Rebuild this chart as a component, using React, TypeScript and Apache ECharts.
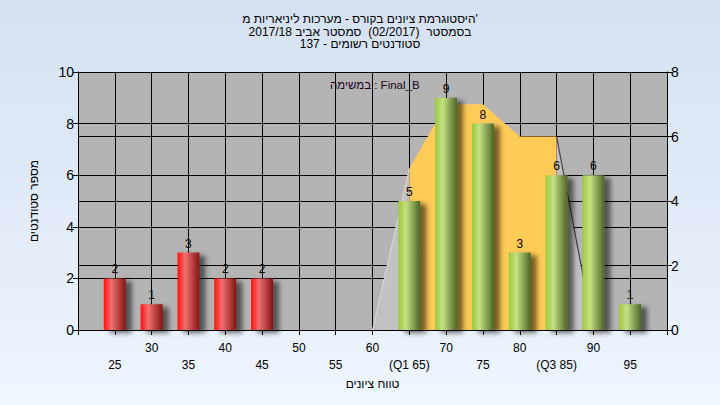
import React, { useEffect, useRef } from "react";
import * as echarts from "echarts";

const titleLines = [
  "היסטוגרמת ציונים בקורס - מערכות ליניאריות מ'",
  "בסמסטר  (02/2017)  סמסטר אביב 2017/18",
  "סטודנטים רשומים - 137",
];
const taskLabel = "במשימה : Final_B";
const xAxisName = "טווח ציונים";
const yAxisName = "מספר סטודנטים";

const failGrades = [25, 30, 35, 40, 45, 50, 55, 60];
const failCounts = [2, 1, 3, 2, 2, 0, 0, 0];
const passGrades = [65, 70, 75, 80, 85, 90, 95];
const passCounts = [5, 9, 8, 3, 6, 6, 1];

const tickValues = [25, 30, 35, 40, 45, 50, 55, 60, 65, 70, 75, 80, 85, 90, 95];
const tickLabels = ["25", "30", "35", "40", "45", "50", "55", "60", "(Q1 65)", "70", "75", "80", "(Q3 85)", "90", "95"];

// box-shape overlay (right axis)
const lowTailX = [60, 65];
const lowTailY = [0, 5];
const iqrX = [65, 70, 75, 80, 85];
const iqrY = [5, 7, 7, 6, 6];
const highTailX = [85, 90];
const highTailY = [6, 0];

const FONT = "Liberation Sans";

export default function App() {
  const ref = useRef<HTMLDivElement>(null);
  useEffect(() => {
    if (!ref.current) return;
    const chart = echarts.init(ref.current, undefined, { renderer: "svg" });
    const redGrad = new echarts.graphic.LinearGradient(0, 0, 1, 0, [
      { offset: 0, color: "#ff1010" },
      { offset: 0.35, color: "#f07070" },
      { offset: 1, color: "#821414" },
    ]);
    const greenGrad = new echarts.graphic.LinearGradient(0, 0, 1, 0, [
      { offset: 0, color: "#9cc83c" },
      { offset: 0.35, color: "#c6e084" },
      { offset: 1, color: "#4c6426" },
    ]);
    const barShadow = {
      shadowBlur: 5,
      shadowOffsetX: 6,
      shadowOffsetY: 3,
      shadowColor: "rgba(0,0,0,0.55)",
    };
    const barLabel = {
      show: true,
      position: "top" as const,
      distance: 3,
      color: "#000",
      fontSize: 12,
      fontFamily: FONT,
      formatter: (p: any) => (p.value[1] > 0 ? String(p.value[1]) : ""),
    };
    const labelFor = (v: number) => {
      const i = tickValues.indexOf(v);
      if (i < 0) return "";
      return v % 10 === 0 ? tickLabels[i] : "\n" + tickLabels[i];
    };
    chart.setOption({
      animation: false,
      backgroundColor: new echarts.graphic.LinearGradient(0, 0, 0, 1, [
        { offset: 0, color: "#d5e1f1" },
        { offset: 1, color: "#eef5fd" },
      ]),
      title: {
        text: titleLines.join("\n"),
        left: "center",
        top: 8,
        textStyle: {
          fontSize: 12,
          fontWeight: "normal",
          color: "#000",
          fontFamily: FONT,
          lineHeight: 12.5,
        },
      },
      graphic: [
        {
          type: "text",
          left: 330,
          top: 79,
          style: { text: taskLabel, fontSize: 11.5, fill: "#200020", fontFamily: FONT },
          z: 100,
        },
      ],
      grid: {
        left: 78,
        right: 53,
        top: 72,
        bottom: 75,
        show: true,
        backgroundColor: "#b4b4b4",
        borderWidth: 0,
      },
      xAxis: {
        type: "value",
        min: 20,
        max: 100,
        interval: 5,
        name: xAxisName,
        nameLocation: "middle",
        nameGap: 41,
        nameTextStyle: { fontSize: 12, color: "#000", fontFamily: FONT },
        axisLine: { show: true, lineStyle: { color: "#000", width: 1 } },
        axisTick: { show: true, length: 5, lineStyle: { color: "#000" } },
        splitLine: { show: true, lineStyle: { color: "#000", width: 1 } },
        axisLabel: {
          fontSize: 12,
          color: "#000",
          fontFamily: FONT,
          margin: 9,
          lineHeight: 17,
          showMinLabel: true,
          showMaxLabel: true,
          formatter: (v: number) => labelFor(v),
        },
      },
      yAxis: [
        {
          type: "value",
          min: 0,
          max: 10,
          interval: 2,
          name: yAxisName,
          nameLocation: "middle",
          nameGap: 38,
          nameTextStyle: { fontSize: 12, color: "#000", fontFamily: FONT },
          axisLine: { show: true, lineStyle: { color: "#000" } },
          axisTick: { show: true, length: 5, lineStyle: { color: "#000" } },
          axisLabel: { fontSize: 14, color: "#000", fontFamily: FONT, margin: 4 },
          splitLine: { show: true, lineStyle: { color: "#000", width: 1 } },
        },
        {
          type: "value",
          min: 0,
          max: 8,
          interval: 2,
          position: "right",
          axisLine: { show: true, lineStyle: { color: "#000" } },
          axisTick: { show: true, length: 5, lineStyle: { color: "#000" } },
          axisLabel: { fontSize: 14, color: "#000", fontFamily: FONT, margin: 4 },
          splitLine: { show: true, lineStyle: { color: "#000", width: 1 } },
        },
      ],
      series: [
        {
          type: "line",
          yAxisIndex: 1,
          data: lowTailX.map((x, i) => [x, lowTailY[i]]),
          symbol: "none",
          lineStyle: { color: "#d8d8d8", width: 1 },
          areaStyle: { color: "#c2c2c2", opacity: 1 },
          z: 1,
        },
        {
          type: "line",
          yAxisIndex: 1,
          data: iqrX.map((x, i) => [x, iqrY[i]]),
          symbol: "none",
          lineStyle: { width: 0 },
          areaStyle: { color: "#ffcb57", opacity: 1 },
          z: 1,
        },
        {
          type: "line",
          yAxisIndex: 1,
          data: highTailX.map((x, i) => [x, highTailY[i]]),
          symbol: "none",
          lineStyle: { color: "#404040", width: 1.2 },
          areaStyle: { color: "#c2c2c2", opacity: 1 },
          z: 1,
        },
        {
          type: "bar",
          yAxisIndex: 0,
          barWidth: 22,
          data: failGrades.map((g, i) => [g, failCounts[i]]),
          itemStyle: { color: redGrad, ...barShadow },
          label: barLabel,
          z: 3,
        },
        {
          type: "bar",
          yAxisIndex: 0,
          barWidth: 22,
          barGap: "-100%",
          data: passGrades.map((g, i) => [g, passCounts[i]]),
          itemStyle: { color: greenGrad, ...barShadow },
          label: barLabel,
          z: 3,
        },
      ],
    });
    return () => chart.dispose();
  }, []);
  return (
    <div
      ref={ref}
      style={{ position: "fixed", left: 0, top: 0, width: 720, height: 405 }}
    />
  );
}
